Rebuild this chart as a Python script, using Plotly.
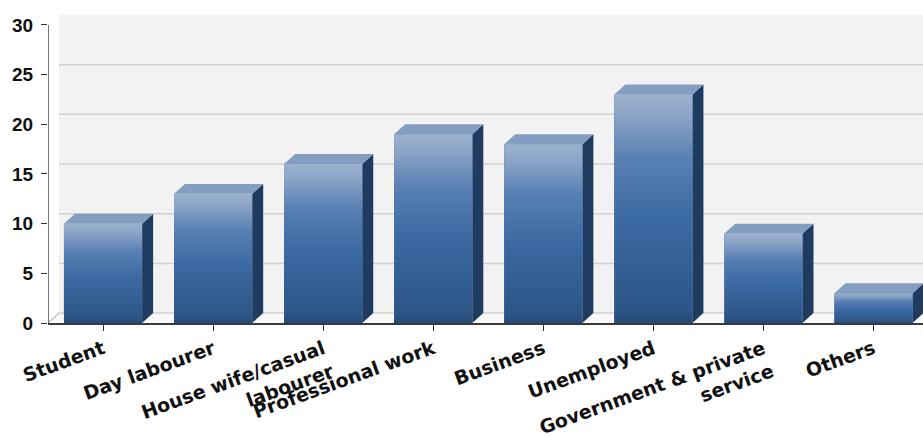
import plotly.graph_objects as go

# Occupation categories and their counts
categories = ["Student", "Day labourer", "House wife/casual<br>labourer", "Professional work",
              "Business", "Unemployed", "Government & private<br>service", "Others"]
values = [10, 13, 16, 19, 18, 23, 9, 3]
y_ticks = [0, 5, 10, 15, 20, 25, 30]

# pseudo-3D geometry (data units)
BAR_W = 0.71
DX = 0.1      # depth offset along x
DY = 1.0      # depth offset along y
X_LO, X_HI = -0.5, 7.45
Y_TOP = 31.2

Y_FONT = dict(family="Liberation Sans, Arial, sans-serif", size=19, color="#111111", weight="bold")
X_FONT = dict(family="DejaVu Sans, Verdana, sans-serif", size=19, color="#111111", weight="bold")

fig = go.Figure()

# front faces as real bars
xs = list(range(len(categories)))
fig.add_trace(go.Bar(x=xs, y=values, width=BAR_W, marker=dict(color="#3c69a2", line=dict(width=0)),
                     hovertemplate="%{customdata}: %{y}<extra></extra>",
                     customdata=[c.replace("<br>", " ") for c in categories]))

front_scale = [[0.0, "#264977"], [0.06, "#2d5687"], [0.45, "#3b69a2"],
               [0.72, "#5980b3"], [0.9, "#8aa3c6"], [1.0, "#9db2cf"]]

for i, v in enumerate(values):
    l, r = i - BAR_W / 2, i + BAR_W / 2
    # side face
    fig.add_trace(go.Scatter(
        x=[r, r + DX, r + DX, r, r], y=[0, DY, v + DY, v, 0],
        mode="lines", fill="toself", fillcolor="#1f3b5f",
        line=dict(width=0, color="#1f3b5f"), hoverinfo="skip", showlegend=False))
    # top face
    fig.add_trace(go.Scatter(
        x=[l, l + DX, r + DX, r, l], y=[v, v + DY, v + DY, v, v],
        mode="lines", fill="toself", fillcolor="#849ec2",
        line=dict(width=0, color="#849ec2"), hoverinfo="skip", showlegend=False))
    # front face shading
    fig.add_trace(go.Scatter(
        x=[l, r, r, l, l], y=[0, 0, v, v, 0],
        mode="lines", fill="toself",
        fillgradient=dict(type="vertical", colorscale=front_scale),
        line=dict(width=0, color="#3c69a2"), hoverinfo="skip", showlegend=False))

# back wall, floor and gridlines
shapes = [
    dict(type="rect", xref="x", yref="y", x0=X_LO + DX, x1=X_HI, y0=DY, y1=30 + DY,
         fillcolor="#f2f2f2", line=dict(width=0), layer="below"),
    dict(type="path", xref="x", yref="y",
         path=f"M {X_LO},0 L {X_LO + DX},{DY} L {X_HI},{DY} L {X_HI},0 Z",
         fillcolor="#f9f9f9", line=dict(width=0), layer="below"),
    dict(type="line", xref="x", yref="y", x0=X_LO, y0=0, x1=X_LO + DX, y1=DY,
         line=dict(color="#9a9a9a", width=1), layer="below"),
    # y axis line
    dict(type="line", xref="x", yref="y", x0=X_LO, y0=0, x1=X_LO, y1=30,
         line=dict(color="#4a4a4a", width=1.5), layer="above"),
]
for t in y_ticks[:-1]:
    shapes.append(dict(type="line", xref="x", yref="y", x0=X_LO + DX, x1=X_HI,
                       y0=t + DY, y1=t + DY, line=dict(color="#d0d0d0", width=1.5), layer="below"))

fig.update_layout(
    width=923, height=437,
    margin=dict(l=48, r=0, t=13, b=114),
    paper_bgcolor="white", plot_bgcolor="white",
    showlegend=False, shapes=shapes,
    xaxis=dict(range=[X_LO, X_HI], tickmode="array", tickvals=xs, ticktext=categories,
               tickangle=-20, tickfont=X_FONT, ticks="outside", ticklen=6, tickcolor="#333333",
               showline=True, linecolor="#3a3a3a", linewidth=1.5, showgrid=False, zeroline=False,
               automargin=False, fixedrange=True),
    yaxis=dict(range=[0, Y_TOP], tickmode="array", tickvals=y_ticks, tickfont=Y_FONT,
               ticks="outside", ticklen=6, tickcolor="#333333", ticklabelstandoff=4,
               showline=False, showgrid=False, zeroline=False, automargin=False, fixedrange=True),
)

fig.write_html("out.html")
